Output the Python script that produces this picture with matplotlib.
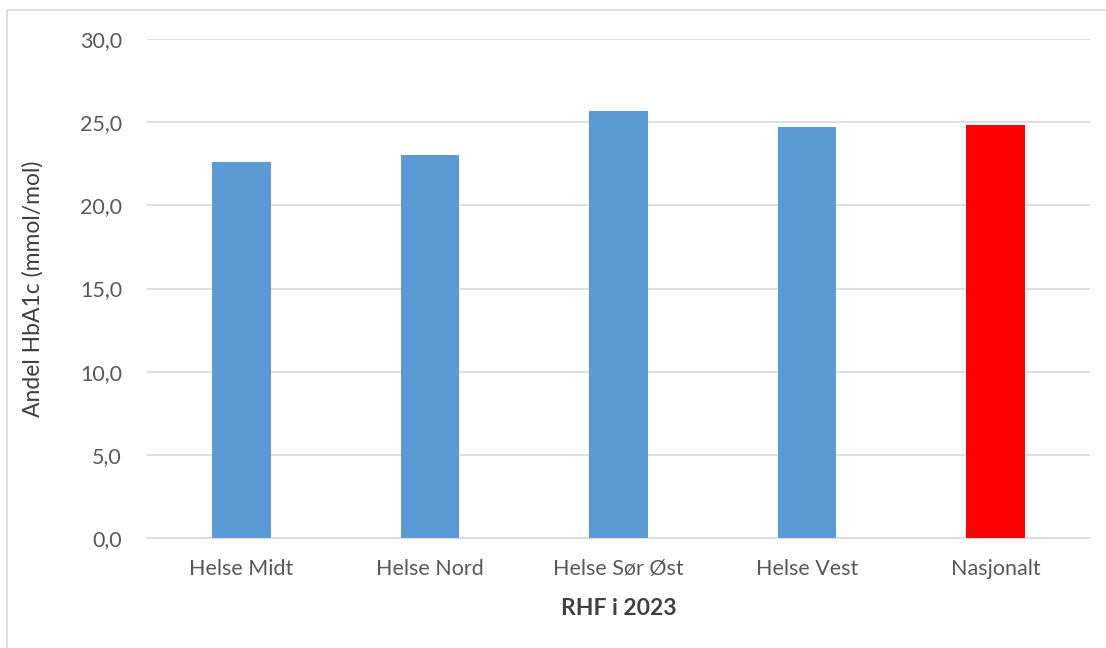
import matplotlib
matplotlib.use("Agg")
import matplotlib.pyplot as plt
from matplotlib.patches import Rectangle

categories = ["Helse Midt", "Helse Nord", "Helse Sør Øst", "Helse Vest", "Nasjonalt"]
values = [22.6, 23.05, 25.7, 24.7, 24.8]
colors = ["#5B9BD5", "#5B9BD5", "#5B9BD5", "#5B9BD5", "#FF0000"]
yticks = [0, 5, 10, 15, 20, 25, 30]
ytick_labels = ["0,0", "5,0", "10,0", "15,0", "20,0", "25,0", "30,0"]

plt.rcParams['font.family'] = ['Lato', 'DejaVu Sans']

fig = plt.figure(figsize=(11.06, 6.48), dpi=100)
ax = fig.add_axes([147/1106, 1 - 538/648, (1090-147)/1106, (538-39)/648])

x = list(range(len(categories)))
ax.bar(x, values, width=0.31, color=colors, zorder=3)
ax.set_xlim(-0.5, len(categories) - 0.5)
ax.set_ylim(0, 30)
ax.set_yticks(yticks)
ax.set_yticklabels(ytick_labels)
ax.set_xticks(x)
ax.set_xticklabels(categories)
ax.grid(axis='y', color='#D9D9D9', linewidth=1.2, zorder=0)
for s in ['top', 'right', 'left']:
    ax.spines[s].set_visible(False)
ax.spines['bottom'].set_color('#D9D9D9')
ax.spines['bottom'].set_linewidth(1.2)
ax.tick_params(axis='both', length=0, colors='#595959', labelsize=15.5)
ax.tick_params(axis='y', pad=18)
ax.tick_params(axis='x', pad=15)
ax.set_ylabel("Andel HbA1c (mmol/mol)", fontsize=16.5, color='#404040', labelpad=26)
ax.set_xlabel("RHF i 2023", fontsize=16.5, fontweight='bold', color='#404040', labelpad=14)

fig.patches.append(Rectangle((7/1106, -0.1), 1.2, 1 - 10/648 + 0.1, transform=fig.transFigure,
                             fill=False, edgecolor='#D9D9D9', linewidth=1.2))

fig.savefig("out.png", dpi=100)
